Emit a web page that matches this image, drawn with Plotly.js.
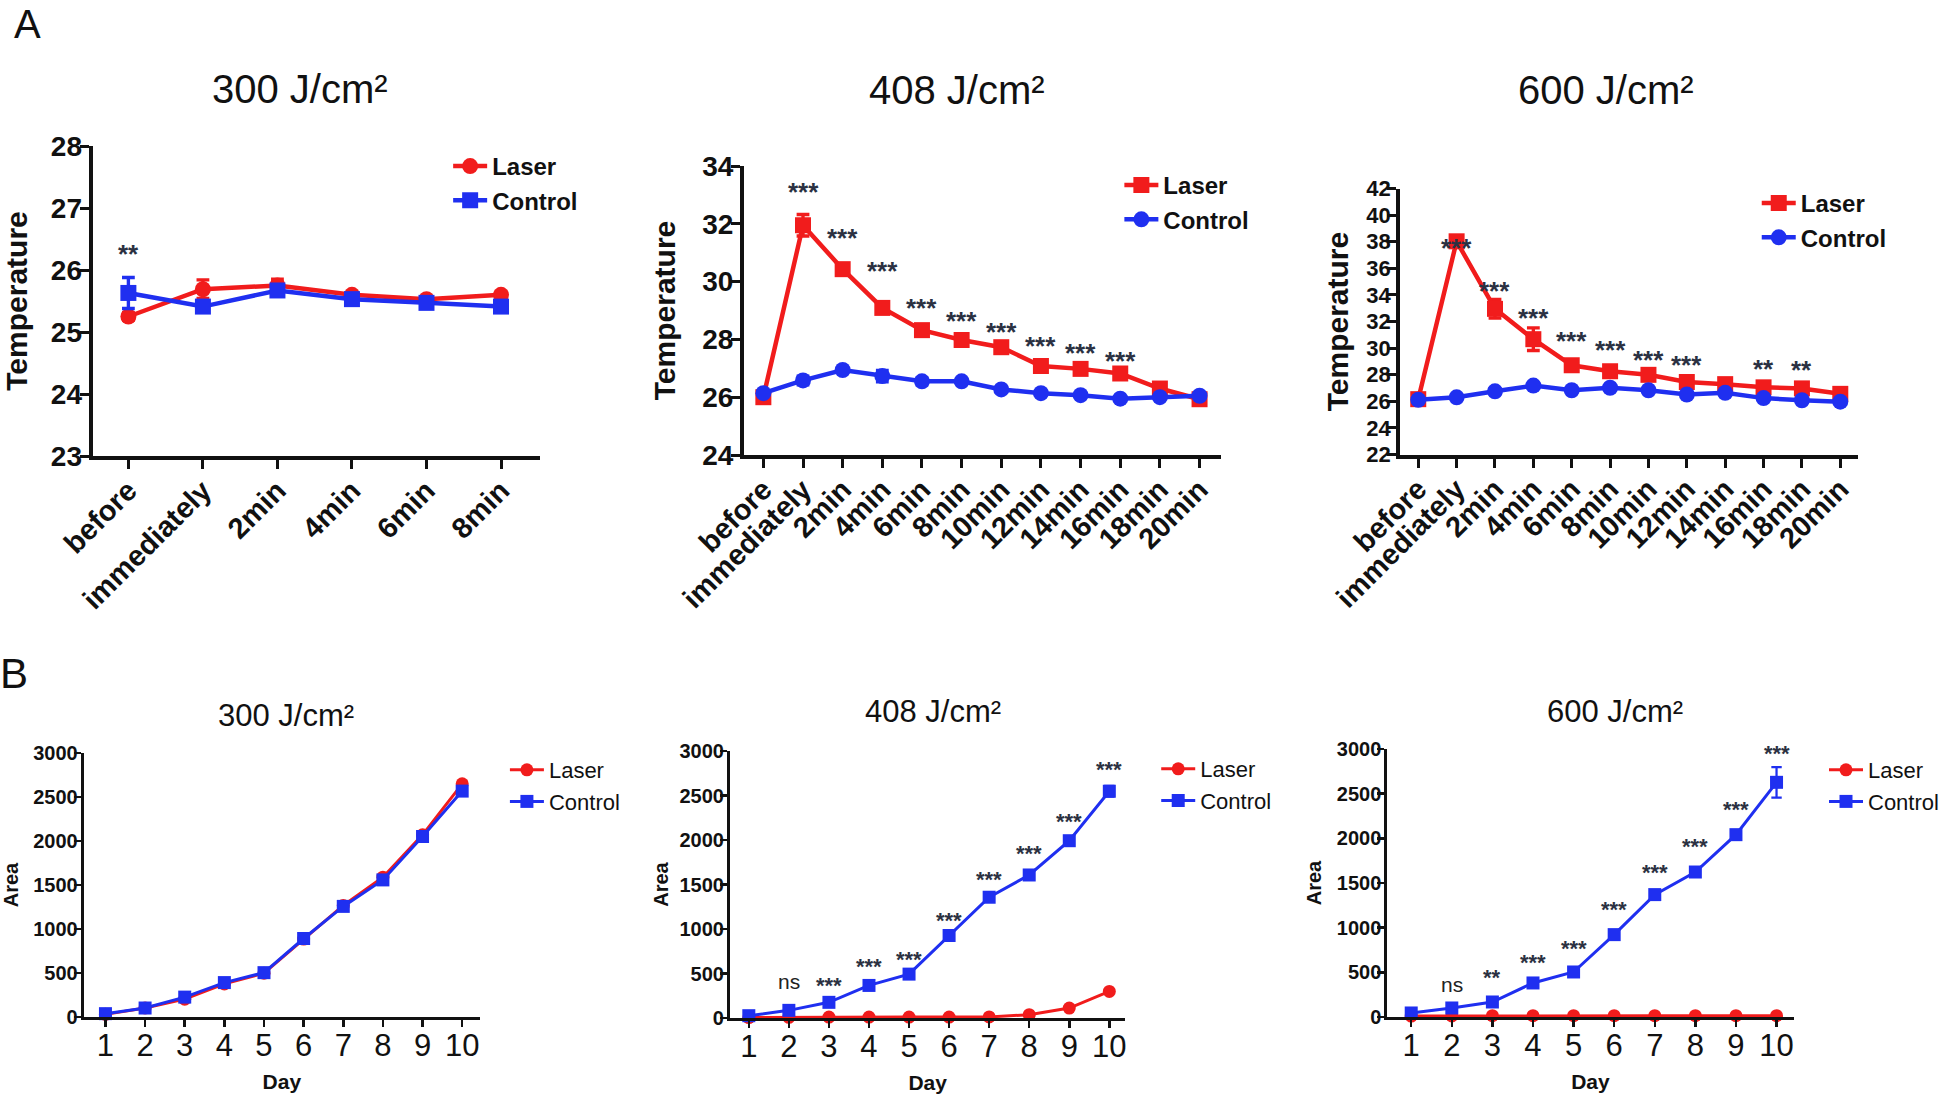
<!DOCTYPE html>
<html>
<head>
<meta charset="utf-8">
<script src="https://cdn.plot.ly/plotly-3.0.1.min.js"></script>
<style>html,body{margin:0;padding:0;background:#fff;}#chart{width:1944px;height:1098px;}</style>
</head>
<body>
<div id="chart"></div>
<script>
// ---------------- DATA ----------------
const panelTitles = ['300 J/cm²', '408 J/cm²', '600 J/cm²'];
const seriesNames = ['Laser', 'Control'];

const timeCats300 = ['before', 'immediately', '2min', '4min', '6min', '8min'];
const timeCats = ['before', 'immediately', '2min', '4min', '6min', '8min', '10min', '12min', '14min', '16min', '18min', '20min'];

// A: temperature, 300 J/cm²
const tempLaser300 = [25.25, 25.69, 25.75, 25.60, 25.53, 25.60];
const tempLaser300Err = [0.06, 0.15, 0.10, 0.04, 0.04, 0.05];
const tempControl300 = [25.63, 25.41, 25.67, 25.53, 25.47, 25.41];
const tempControl300Err = [0.25, 0.05, 0.05, 0.06, 0.03, 0.04];
const sig300Cats = ['before'];
const sig300Y = [26.35];
const sig300Text = ['**'];

// A: temperature, 408 J/cm²
const tempLaser408 = [26.00, 31.95, 30.43, 29.09, 28.32, 27.98, 27.73, 27.08, 26.98, 26.82, 26.30, 25.93];
const tempLaser408Err = [0.05, 0.37, 0.10, 0.15, 0.10, 0.08, 0.10, 0.08, 0.08, 0.10, 0.08, 0.05];
const tempControl408 = [26.14, 26.58, 26.94, 26.73, 26.55, 26.55, 26.27, 26.14, 26.07, 25.95, 26.00, 26.05];
const tempControl408Err = [0.05, 0.15, 0.08, 0.20, 0.12, 0.08, 0.06, 0.05, 0.05, 0.05, 0.04, 0.04];
const sig408Cats = ['immediately', '2min', '4min', '6min', '8min', '10min', '12min', '14min', '16min'];
const sig408Y = [33.3, 31.7, 30.55, 29.3, 28.85, 28.47, 27.98, 27.73, 27.45];
const sig408Text = ['***', '***', '***', '***', '***', '***', '***', '***', '***'];

// A: temperature, 600 J/cm²
const tempLaser600 = [26.16, 38.03, 32.95, 30.67, 28.71, 28.26, 27.99, 27.45, 27.29, 27.05, 26.97, 26.56];
const tempLaser600Err = [0.20, 0.30, 0.70, 0.85, 0.30, 0.30, 0.30, 0.25, 0.20, 0.30, 0.20, 0.15];
const tempControl600 = [26.11, 26.30, 26.75, 27.18, 26.83, 27.02, 26.83, 26.51, 26.64, 26.24, 26.08, 25.97];
const tempControl600Err = [0.15, 0.15, 0.20, 0.20, 0.15, 0.15, 0.15, 0.15, 0.15, 0.15, 0.15, 0.15];
const sig600Cats = ['immediately', '2min', '4min', '6min', '8min', '10min', '12min', '16min', '18min'];
const sig600Y = [37.97, 34.75, 32.71, 30.94, 30.32, 29.52, 29.17, 28.85, 28.79];
const sig600Text = ['***', '***', '***', '***', '***', '***', '***', '**', '**'];

// B: tumour area by day
const days = [1, 2, 3, 4, 5, 6, 7, 8, 9, 10];
const areaLaser300 = [30, 102, 203, 376, 497, 885, 1268, 1589, 2070, 2650];
const areaLaser300Err = [8, 10, 15, 20, 20, 25, 40, 30, 35, 30];
const areaControl300 = [38, 102, 226, 391, 504, 892, 1257, 1558, 2051, 2567];
const areaControl300Err = [8, 10, 15, 20, 20, 25, 50, 30, 35, 40];

const areaLaser408 = [5, 8, 10, 10, 10, 10, 12, 37, 112, 299];
const areaLaser408Err = [2, 2, 2, 2, 2, 2, 3, 5, 10, 15];
const areaControl408 = [26, 86, 176, 366, 493, 927, 1357, 1607, 1992, 2548];
const areaControl408Err = [10, 15, 20, 25, 25, 40, 40, 30, 30, 60];
const sigArea408Days = [2, 3, 4, 5, 6, 7, 8, 9, 10];
const sigArea408Y = [411, 422, 635, 710, 1147, 1607, 1902, 2260, 2847];
const sigArea408Text = ['ns', '***', '***', '***', '***', '***', '***', '***', '***'];

const areaLaser600 = [10, 12, 15, 15, 15, 15, 15, 15, 15, 15];
const areaLaser600Err = [2, 2, 2, 2, 2, 2, 2, 2, 2, 2];
const areaControl600 = [45, 101, 168, 381, 504, 922, 1370, 1623, 2041, 2627];
const areaControl600Err = [10, 15, 25, 25, 25, 40, 30, 30, 40, 170];
const sigArea600Days = [2, 3, 4, 5, 6, 7, 8, 9, 10];
const sigArea600Y = [362, 493, 660, 817, 1257, 1668, 1966, 2377, 3000];
const sigArea600Text = ['ns', '**', '***', '***', '***', '***', '***', '***', '***'];

// ---------------- STYLE / LAYOUT ----------------
const W = 1944, H = 1098;
const RED = '#f11c1c', BLUE = '#1f2ff0', STAR = '#2b3142';
const FONT = 'Liberation Sans, Arial, sans-serif';
const px = v => v / W;
const py = v => 1 - v / H;

function series(x, y, err, name, color, symbol, xa, ya, leg, opt) {
  return {
    type: 'scatter', mode: 'lines+markers', x: x, y: y, name: name,
    xaxis: xa, yaxis: ya, legend: leg, legendgroup: leg + name,
    line: {color: color, width: opt.lw},
    marker: {color: color, symbol: symbol, size: opt.ms},
    error_y: {type: 'data', array: err, visible: true, color: color, thickness: opt.lw * 0.75, width: opt.ms * 0.4},
    cliponaxis: false
  };
}

const optA = {lw: 4.5, ms: 16};
const optB = {lw: 3, ms: 13};

const traces = [
  series(timeCats300, tempLaser300, tempLaser300Err, seriesNames[0], RED, 'circle', 'x', 'y', 'legend', optA),
  series(timeCats300, tempControl300, tempControl300Err, seriesNames[1], BLUE, 'square', 'x', 'y', 'legend', optA),
  series(timeCats, tempLaser408, tempLaser408Err, seriesNames[0], RED, 'square', 'x2', 'y2', 'legend2', optA),
  series(timeCats, tempControl408, tempControl408Err, seriesNames[1], BLUE, 'circle', 'x2', 'y2', 'legend2', optA),
  series(timeCats, tempLaser600, tempLaser600Err, seriesNames[0], RED, 'square', 'x3', 'y3', 'legend3', optA),
  series(timeCats, tempControl600, tempControl600Err, seriesNames[1], BLUE, 'circle', 'x3', 'y3', 'legend3', optA),
  series(days, areaLaser300, areaLaser300Err, seriesNames[0], RED, 'circle', 'x4', 'y4', 'legend4', optB),
  series(days, areaControl300, areaControl300Err, seriesNames[1], BLUE, 'square', 'x4', 'y4', 'legend4', optB),
  series(days, areaLaser408, areaLaser408Err, seriesNames[0], RED, 'circle', 'x5', 'y5', 'legend5', optB),
  series(days, areaControl408, areaControl408Err, seriesNames[1], BLUE, 'square', 'x5', 'y5', 'legend5', optB),
  series(days, areaLaser600, areaLaser600Err, seriesNames[0], RED, 'circle', 'x6', 'y6', 'legend6', optB),
  series(days, areaControl600, areaControl600Err, seriesNames[1], BLUE, 'square', 'x6', 'y6', 'legend6', optB)
];

function catAxis(x0, x1, range, cats, anchor) {
  return {
    domain: [px(x0), px(x1)], anchor: anchor, type: 'category', categoryarray: cats,
    range: range, showgrid: false, zeroline: false, showline: true, linecolor: '#111', linewidth: 4,
    ticks: 'outside', ticklen: 9, tickwidth: 3, tickcolor: '#111', tickangle: -45,
    ticklabelstandoff: -7,
    tickfont: {family: FONT, size: 29, color: '#111', weight: 'bold'}, fixedrange: true
  };
}
function tempAxis(yTop, yBot, range, dtick, anchor, standoff, tickSize) {
  return {
    domain: [py(yBot), py(yTop)], anchor: anchor, range: range, dtick: dtick,
    showgrid: false, zeroline: false, showline: true, linecolor: '#111', linewidth: 4,
    ticks: 'outside', ticklen: 9, tickwidth: 3, tickcolor: '#111', ticklabelstandoff: -8,
    tickfont: {family: FONT, size: tickSize, color: '#111', weight: 'bold'},
    title: {text: 'Temperature', font: {family: FONT, size: 30, color: '#111', weight: 'bold'}, standoff: standoff},
    automargin: false, fixedrange: true
  };
}
function dayAxis(x0, x1, range, anchor) {
  return {
    domain: [px(x0), px(x1)], anchor: anchor, range: range, tickvals: days, ticktext: days.map(String),
    showgrid: false, zeroline: false, showline: true, linecolor: '#111', linewidth: 3,
    ticks: 'outside', ticklen: 7, tickwidth: 2.5, tickcolor: '#111', ticklabelstandoff: -8,
    tickfont: {family: FONT, size: 31, color: '#111'},
    title: {text: 'Day', font: {family: FONT, size: 21, color: '#111', weight: 'bold'}, standoff: 13},
    automargin: false, fixedrange: true
  };
}
function areaAxis(yTop, yBot, anchor, standoff) {
  return {
    domain: [py(yBot), py(yTop)], anchor: anchor, range: [0, 3000], dtick: 500,
    showgrid: false, zeroline: false, showline: true, linecolor: '#111', linewidth: 3,
    ticks: 'outside', ticklen: 7, tickwidth: 2.5, tickcolor: '#111', ticklabelstandoff: -8,
    tickfont: {family: FONT, size: 20, color: '#111', weight: 'bold'},
    title: {text: 'Area', font: {family: FONT, size: 20, color: '#111', weight: 'bold'}, standoff: standoff},
    automargin: false, fixedrange: true
  };
}
function legendAt(textX, topY, size, bold) {
  return {
    x: px(textX - 42), y: py(topY), xanchor: 'left', yanchor: 'top',
    bgcolor: 'rgba(0,0,0,0)', borderwidth: 0, traceorder: 'grouped', tracegroupgap: 0,
    font: {family: FONT, size: size, color: '#111', weight: bold ? 'bold' : 'normal'},
    itemwidth: 34
  };
}

const annotations = [];
function sigMarks(cats, ys, texts, xa, ya, size, bold) {
  cats.forEach((c, i) => {
    const t = texts[i];
    const isNs = t === 'ns';
    annotations.push({
      x: c, y: ys[i], xref: xa, yref: ya, text: t, showarrow: false,
      xanchor: 'center', yanchor: 'middle', yshift: isNs ? 0 : -size * 0.22,
      font: {family: FONT, size: isNs ? 21 : size, color: isNs ? '#222' : STAR, weight: (bold && !isNs) ? 'bold' : 'normal'}
    });
  });
}
sigMarks(sig300Cats, sig300Y, sig300Text, 'x', 'y', 26, true);
sigMarks(sig408Cats, sig408Y, sig408Text, 'x2', 'y2', 26, true);
sigMarks(sig600Cats, sig600Y, sig600Text, 'x3', 'y3', 26, true);
sigMarks(sigArea408Days, sigArea408Y, sigArea408Text, 'x5', 'y5', 22, true);
sigMarks(sigArea600Days, sigArea600Y, sigArea600Text, 'x6', 'y6', 22, true);

function textAt(x, y, text, size, yanchor) {
  annotations.push({x: px(x), y: py(y), xref: 'paper', yref: 'paper', text: text, showarrow: false,
    xanchor: 'center', yanchor: yanchor || 'middle', font: {family: FONT, size: size, color: '#111'}});
}
// panel titles
textAt(301, 89, panelTitles[0], 40);
textAt(961, 90, panelTitles[1], 40);
textAt(1613, 90, panelTitles[2], 40);
textAt(287, 715, panelTitles[0], 31);
textAt(937, 711, panelTitles[1], 31);
textAt(1622, 711, panelTitles[2], 31);
// panel letters
textAt(28, 0, 'A', 40, 'top');
textAt(14, 673, 'B', 42);

const layout = {
  width: W, height: H, margin: {l: 0, r: 0, t: 0, b: 0},
  paper_bgcolor: '#fff', plot_bgcolor: 'rgba(0,0,0,0)', showlegend: true,
  font: {family: FONT, color: '#111'},
  xaxis: catAxis(93, 542, [-0.48, 5.52], timeCats300, 'y'),
  yaxis: tempAxis(146, 456, [23, 28], 1, 'x', 34, 28),
  xaxis2: catAxis(747, 1226, [-0.49, 11.54], timeCats, 'y2'),
  yaxis2: tempAxis(166, 455, [24, 34], 2, 'x2', 19, 28),
  xaxis3: catAxis(1406, 1866, [-0.47, 11.47], timeCats, 'y3'),
  yaxis3: tempAxis(188.5, 454.5, [22, 42], 2, 'x3', 10, 22),
  xaxis4: dayAxis(84, 482, [0.45, 10.45], 'y4'),
  yaxis4: areaAxis(753, 1017, 'x4', 18),
  xaxis5: dayAxis(733, 1130, [0.53, 10.4], 'y5'),
  yaxis5: areaAxis(751, 1018, 'x5', 6),
  xaxis6: dayAxis(1393, 1801, [0.41, 10.42], 'y6'),
  yaxis6: areaAxis(749, 1017, 'x6', 10),
  legend: legendAt(492, 144, 24, true),
  legend2: legendAt(1166, 163, 24, true),
  legend3: legendAt(1806, 181, 24, true),
  legend4: legendAt(549, 749, 22, false),
  legend5: legendAt(1203, 748, 22, false),
  legend6: legendAt(1874, 749, 22, false),
  annotations: annotations
};

Plotly.newPlot('chart', traces, layout, {displayModeBar: false, staticPlot: true});
</script>
</body>
</html>
